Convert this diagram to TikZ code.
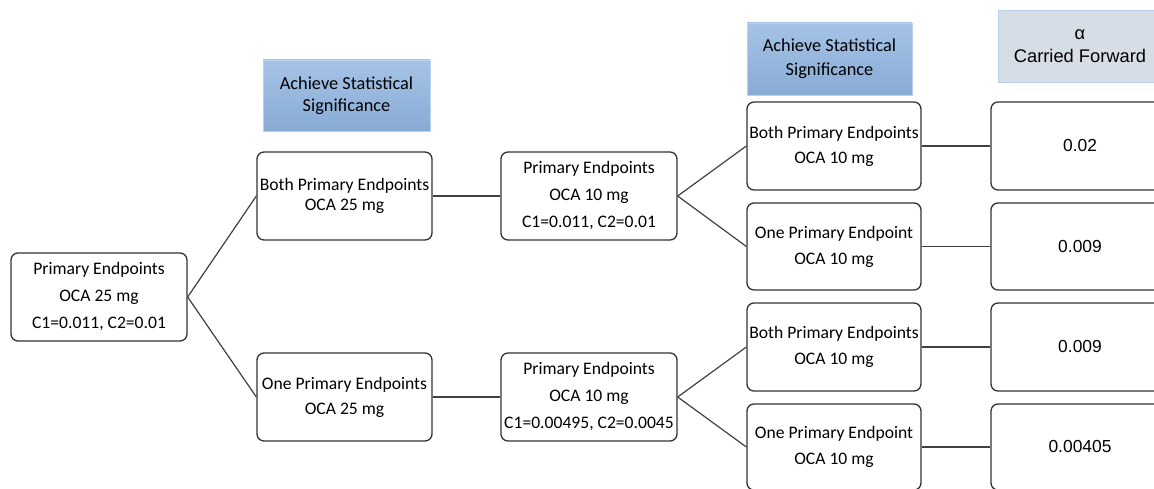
\documentclass[tikz,border=0pt]{standalone}
\usepackage{fontspec}
\setmainfont{Carlito}
\newfontfamily\arialf{Liberation Sans}
\begin{document}
\begin{tikzpicture}[x=1pt,y=-1pt,
  box/.style={draw=black!80, line width=1.3pt, rounded corners=7pt, fill=white,
    minimum width=175pt, minimum height=88pt, align=center, inner sep=0pt},
  cal/.style={font={\fontsize{17.6}{#1}\selectfont}},
  calh/.style={font={\fontsize{18.3}{#1}\selectfont}},
  ari/.style={font={\arialf\fontsize{17.4}{#1}\selectfont}},
  arih/.style={font={\arialf\fontsize{18.3}{#1}\selectfont}},
  hdr/.style={draw=#1!70!white, line width=0.8pt, minimum height=71pt, align=center, inner sep=0pt},
  link/.style={draw=black!75, line width=1.2pt}]
\definecolor{hblue}{HTML}{8FB4E0}
\definecolor{hgray}{HTML}{D7DDE6}
\definecolor{hborder}{HTML}{9DBDE6}
\useasboundingbox (0,0) rectangle (1154,489);
\clip (0,0) rectangle (1154,489);
% headers
\node[hdr=hborder, top color=hblue!80!white, bottom color=hblue!95!black, minimum width=167pt, calh=22pt] (h1) at (346.5,95.5) {Achieve Statistical\\Significance};
\node[hdr=hborder, top color=hblue!80!white, bottom color=hblue!95!black, minimum width=165pt, minimum height=72pt, calh=24pt] (h2) at (829.5,59) {Achieve Statistical\\Significance};
\node[hdr=hborder, fill=hgray, minimum width=164pt, minimum height=72pt, arih=23pt] (h3) at (1080,46) {α\\Carried Forward};
% boxes
\node[box, minimum width=176pt, cal=27pt] (a) at (99,297) {Primary Endpoints\\OCA 25 mg\\C1=0.011, C2=0.01};
\node[box, cal=20pt] (b) at (344.5,196) {Both Primary Endpoints\\OCA 25 mg};
\node[box, cal=25pt] (c) at (344.5,397) {One Primary Endpoints\\OCA 25 mg};
\node[box, minimum width=176pt, cal=27pt] (d) at (589,196) {Primary Endpoints\\OCA 10 mg\\C1=0.011, C2=0.01};
\node[box, minimum width=176pt, cal=27pt] (e) at (589,397) {Primary Endpoints\\OCA 10 mg\\C1=0.00495, C2=0.0045};
\node[box, minimum width=174pt, cal=25pt] (f) at (834,146) {Both Primary Endpoints\\OCA 10 mg};
\node[box, minimum width=174pt, minimum height=87pt, cal=26pt] (g) at (834,246.5) {One Primary Endpoint\\OCA 10 mg};
\node[box, minimum width=174pt, cal=26pt] (hh) at (834,347) {Both Primary Endpoints\\OCA 10 mg};
\node[box, minimum width=174pt, minimum height=86pt, cal=26pt] (i) at (834,447) {One Primary Endpoint\\OCA 10 mg};
\node[box, minimum width=178pt, ari=20pt] (j) at (1080,146) {0.02};
\node[box, minimum width=178pt, minimum height=87pt, ari=20pt] (k) at (1080,246.5) {0.009};
\node[box, minimum width=178pt, ari=20pt] (l) at (1080,347) {0.009};
\node[box, minimum width=178pt, minimum height=86pt, ari=20pt] (m) at (1080,447) {0.00405};
% connectors
\draw[link] (a.east) -- (b.west);
\draw[link] (a.east) -- (c.west);
\draw[link] (b.east) -- (d.west);
\draw[link] (c.east) -- (e.west);
\draw[link] (d.east) -- (f.west);
\draw[link] (d.east) -- (g.west);
\draw[link] (e.east) -- (hh.west);
\draw[link] (e.east) -- (i.west);
\draw[link] (f.east) -- (j.west);
\draw[link] (g.east) -- (k.west);
\draw[link] (hh.east) -- (l.west);
\draw[link] (i.east) -- (m.west);
\end{tikzpicture}
\end{document}
